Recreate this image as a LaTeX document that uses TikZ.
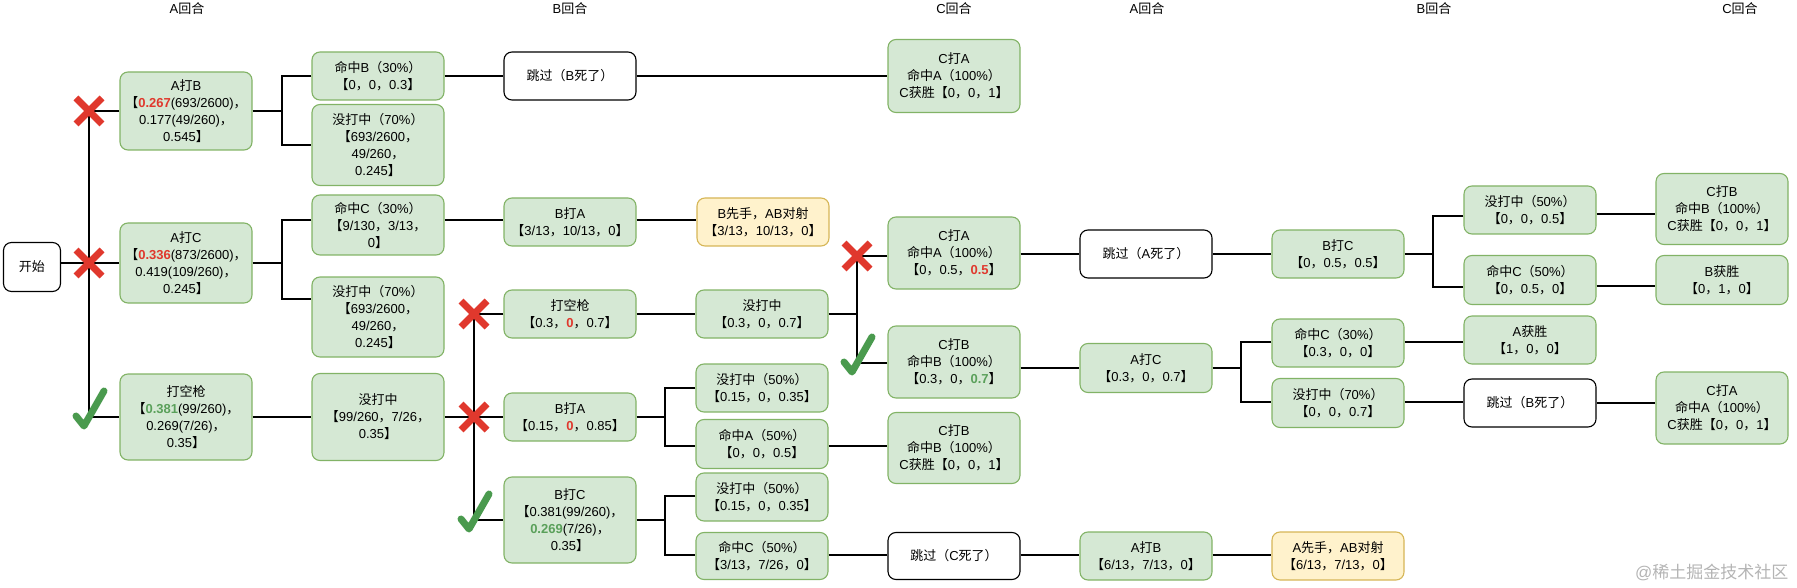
\documentclass[tikz,border=0pt]{standalone}
\usepackage{fontspec}
\setmainfont{Liberation Sans}
\newfontfamily\latinfont{Liberation Sans}
\newfontfamily\cjkfont{Noto Sans CJK SC}
\XeTeXinterchartokenstate=1
\newXeTeXintercharclass\CJKcls
\newcount\cjkcnt
\def\setcjkrange#1#2{\cjkcnt=#1\relax\loop\XeTeXcharclass\cjkcnt=\CJKcls\relax\ifnum\cjkcnt<#2\relax\advance\cjkcnt by 1\relax\repeat}
\setcjkrange{"3000}{"303F}
\setcjkrange{"4E00}{"9FFF}
\setcjkrange{"FF00}{"FFEF}
\XeTeXinterchartoks 0 \CJKcls = {\cjkfont}
\XeTeXinterchartoks 4095 \CJKcls = {\cjkfont}
\XeTeXinterchartoks \CJKcls 0 = {\latinfont}
\XeTeXinterchartoks \CJKcls 4095 = {\latinfont}
\definecolor{gfill}{HTML}{D5E8D4}
\definecolor{gline}{HTML}{82B366}
\definecolor{yfill}{HTML}{FFF2CC}
\definecolor{yline}{HTML}{D6B656}
\definecolor{xred}{HTML}{E0382D}
\definecolor{xgreen}{HTML}{4A9A4E}
\definecolor{tgreen}{HTML}{5AA05A}
\definecolor{wmgray}{HTML}{B4B4B4}
\newcommand\redb[1]{\textcolor{xred}{\bfseries #1}}
\newcommand\grnb[1]{\textcolor{tgreen}{\bfseries #1}}
\newcommand\drawX[1]{\draw[xred, line width=7pt] ([shift={(-13,-13)}]#1) -- ([shift={(13,13)}]#1) ([shift={(-13,13)}]#1) -- ([shift={(13,-13)}]#1);}
\newcommand\drawCheck[1]{\draw[xgreen, line width=7pt, line cap=round, line join=round] ([shift={(-13,-1)}]#1) -- ([shift={(-5,9)}]#1) -- ([shift={(15,-26)}]#1);}
\begin{document}
\begin{tikzpicture}[x=1pt, y=-1pt,
  every node/.style={font=\fontsize{13}{17}\selectfont},
  gbox/.style={draw=gline, fill=gfill, rounded corners=8pt, line width=1.1pt, minimum width=132pt, align=center, inner sep=2pt},
  ybox/.style={gbox, draw=yline, fill=yfill},
  wbox/.style={gbox, draw=black, fill=white},
  conn/.style={line width=2.2pt, black}]
\useasboundingbox (0,0) rectangle (1797,588);

% headers
\node (h1) at (187,9) {A回合};
\node (h2) at (570,9) {B回合};
\node (h3) at (954,9) {C回合};
\node (h4) at (1147,9) {A回合};
\node (h5) at (1434,9) {B回合};
\node (h6) at (1740,9) {C回合};

% start
\node[wbox, minimum width=57pt, minimum height=49pt] (start) at (32,267) {开始};

% column 1
\node[gbox, minimum height=78pt] (n1) at (186,111) {A打B\\【\redb{0.267}(693/2600)，\\0.177(49/260)，\\0.545】};
\node[gbox, minimum height=80pt] (n2) at (186,263) {A打C\\【\redb{0.336}(873/2600)，\\0.419(109/260)，\\0.245】};
\node[gbox, minimum height=86pt] (n3) at (186,417) {打空枪\\【\grnb{0.381}(99/260)，\\0.269(7/26)，\\0.35】};

% column 2
\node[gbox, minimum height=48pt] (n4) at (378,76) {命中B（30\%）\\【0，0，0.3】};
\node[gbox, minimum height=81pt] (n5) at (378,145) {没打中（70\%）\\【693/2600，\\49/260，\\0.245】};
\node[gbox, minimum height=60pt] (n6) at (378,225) {命中C（30\%）\\【9/130，3/13，\\0】};
\node[gbox, minimum height=80pt] (n7) at (378,317) {没打中（70\%）\\【693/2600，\\49/260，\\0.245】};
\node[gbox, minimum height=87pt] (n8) at (378,417) {没打中\\【99/260，7/26，\\0.35】};

% column 3
\node[wbox, minimum height=48pt] (n9) at (570,76) {跳过（B死了）};
\node[gbox, minimum height=48pt] (n10) at (570,222) {B打A\\【3/13，10/13，0】};
\node[gbox, minimum height=48pt] (n11) at (570,314) {打空枪\\【0.3，\redb{0}，0.7】};
\node[gbox, minimum height=48pt] (n12) at (570,417) {B打A\\【0.15，\redb{0}，0.85】};
\node[gbox, minimum height=86pt] (n13) at (570,520) {B打C\\【0.381(99/260)，\\\grnb{0.269}(7/26)，\\0.35】};

% column 4
\node[ybox, minimum height=48pt] (n14) at (763,222) {B先手，AB对射\\【3/13，10/13，0】};
\node[gbox, minimum height=48pt] (n15) at (762,314) {没打中\\【0.3，0，0.7】};
\node[gbox, minimum height=48pt] (n16) at (762,388) {没打中（50\%）\\【0.15，0，0.35】};
\node[gbox, minimum height=49pt] (n17) at (762,444) {命中A（50\%）\\【0，0，0.5】};
\node[gbox, minimum height=48pt] (n18) at (762,497) {没打中（50\%）\\【0.15，0，0.35】};
\node[gbox, minimum height=47pt] (n19) at (762,556) {命中C（50\%）\\【3/13，7/26，0】};

% column 5
\node[gbox, minimum height=73pt] (n20) at (954,76) {C打A\\命中A（100\%）\\C获胜【0，0，1】};
\node[gbox, minimum height=72pt] (n22) at (954,253) {C打A\\命中A（100\%）\\【0，0.5，\redb{0.5}】};
\node[gbox, minimum height=72pt] (n23) at (954,362) {C打B\\命中B（100\%）\\【0.3，0，\grnb{0.7}】};
\node[gbox, minimum height=71pt] (n21) at (954,448) {C打B\\命中B（100\%）\\C获胜【0，0，1】};
\node[wbox, minimum height=47pt] (n24) at (954,556) {跳过（C死了）};

% column 6
\node[wbox, minimum height=48pt] (n25) at (1146,254) {跳过（A死了）};
\node[gbox, minimum height=49pt] (n26) at (1146,368) {A打C\\【0.3，0，0.7】};
\node[gbox, minimum height=48pt] (n27) at (1146,556) {A打B\\【6/13，7/13，0】};

% column 7
\node[gbox, minimum height=48pt] (n28) at (1338,254) {B打C\\【0，0.5，0.5】};
\node[gbox, minimum height=48pt] (n29) at (1338,343) {命中C（30\%）\\【0.3，0，0】};
\node[gbox, minimum height=49pt] (n30) at (1338,403) {没打中（70\%）\\【0，0，0.7】};
\node[ybox, minimum height=48pt] (n31) at (1338,556) {A先手，AB对射\\【6/13，7/13，0】};

% column 8
\node[gbox, minimum height=48pt] (n32) at (1530,210) {没打中（50\%）\\【0，0，0.5】};
\node[gbox, minimum height=49pt] (n33) at (1530,280) {命中C（50\%）\\【0，0.5，0】};
\node[gbox, minimum height=48pt] (n34) at (1530,340) {A获胜\\【1，0，0】};
\node[wbox, minimum height=48pt] (n35) at (1530,403) {跳过（B死了）};

% column 9
\node[gbox, minimum height=71pt] (n36) at (1722,209) {C打B\\命中B（100\%）\\C获胜【0，0，1】};
\node[gbox, minimum height=49pt] (n37) at (1722,280) {B获胜\\【0，1，0】};
\node[gbox, minimum height=72pt] (n38) at (1722,408) {C打A\\命中A（100\%）\\C获胜【0，0，1】};

% watermark
\node[text=wmgray, font=\fontsize{17}{20}\selectfont, anchor=east] (wm) at (1792,572) {@稀土掘金技术社区};

% junction coordinates
\coordinate (ta) at (89,111);
\coordinate (tb) at (89,263);
\coordinate (tc) at (89,417);
\coordinate (ja) at (282,111);
\coordinate (ja1) at (282,76);
\coordinate (ja2) at (282,145);
\coordinate (jb) at (282,263);
\coordinate (jb1) at (282,220);
\coordinate (jb2) at (282,299);
\coordinate (sa) at (474,314);
\coordinate (sb) at (474,417);
\coordinate (sc) at (474,520);
\coordinate (ua) at (857,256);
\coordinate (ub) at (857,314);
\coordinate (uc) at (857,363);
\coordinate (jc) at (665,417);
\coordinate (jc1) at (665,388);
\coordinate (jc2) at (665,446);
\coordinate (jd) at (665,520);
\coordinate (jd1) at (665,496);
\coordinate (jd2) at (665,555);
\coordinate (je) at (1241,368);
\coordinate (je1) at (1241,342);
\coordinate (je2) at (1241,402);
\coordinate (jg) at (1433,254);
\coordinate (jg1) at (1433,216);
\coordinate (jg2) at (1433,287);
\coordinate (kh) at (1626,214);
\coordinate (ki) at (1626,286);

% connectors
\draw[conn] (start.east |- tb) -- (tb -| n2.west);
\draw[conn] (ta -| n1.west) -- (ta) -- (tc) -- (tc -| n3.west);
\draw[conn] (n1.east) -- (ja);
\draw[conn] (ja1 -| n4.west) -- (ja1) -- (ja2) -- (ja2 -| n5.west);
\draw[conn] (n2.east) -- (jb);
\draw[conn] (jb1 -| n6.west) -- (jb1) -- (jb2) -- (jb2 -| n7.west);
\draw[conn] (n3.east) -- (n8.west);
\draw[conn] (n4.east) -- (n9.west);
\draw[conn] (n9.east) -- (n20.west);
\draw[conn] (jb1 -| n6.east) -- (jb1 -| n10.west);
\draw[conn] (jb1 -| n10.east) -- (jb1 -| n14.west);
\draw[conn] (n8.east) -- (sb);
\draw[conn] (sa -| n11.west) -- (sa) -- (sc) -- (sc -| n13.west);
\draw[conn] (sb) -- (n12.west);
\draw[conn] (n11.east) -- (n15.west);
\draw[conn] (n15.east) -- (ub);
\draw[conn] (ua -| n22.west) -- (ua) -- (uc) -- (uc -| n23.west);
\draw[conn] (n12.east) -- (jc);
\draw[conn] (jc1 -| n16.west) -- (jc1) -- (jc2) -- (jc2 -| n17.west);
\draw[conn] (jc2 -| n17.east) -- (jc2 -| n21.west);
\draw[conn] (n13.east) -- (jd);
\draw[conn] (jd1 -| n18.west) -- (jd1) -- (jd2) -- (jd2 -| n19.west);
\draw[conn] (jd2 -| n19.east) -- (jd2 -| n24.west);
\draw[conn] (jd2 -| n24.east) -- (jd2 -| n27.west);
\draw[conn] (jd2 -| n27.east) -- (jd2 -| n31.west);
\draw[conn] (n22.east |- n25.west) -- (n25.west);
\draw[conn] (n25.east) -- (n28.west);
\draw[conn] (n23.east |- n26.west) -- (n26.west);
\draw[conn] (n26.east) -- (je);
\draw[conn] (je1 -| n29.west) -- (je1) -- (je2) -- (je2 -| n30.west);
\draw[conn] (je1 -| n29.east) -- (je1 -| n34.west);
\draw[conn] (je2 -| n30.east) -- (je2 -| n35.west);
\draw[conn] (n35.east) -- (n35.east -| n38.west);
\draw[conn] (n28.east) -- (jg);
\draw[conn] (jg1 -| n32.west) -- (jg1) -- (jg2) -- (jg2 -| n33.west);
\draw[conn] (kh -| n32.east) -- (kh -| n36.west);
\draw[conn] (ki -| n33.east) -- (ki -| n37.west);

% marks
\drawX{ta}
\drawX{tb}
\drawCheck{tc}
\drawX{sa}
\drawX{sb}
\drawCheck{sc}
\drawX{ua}
\drawCheck{uc}
\end{tikzpicture}
\end{document}
